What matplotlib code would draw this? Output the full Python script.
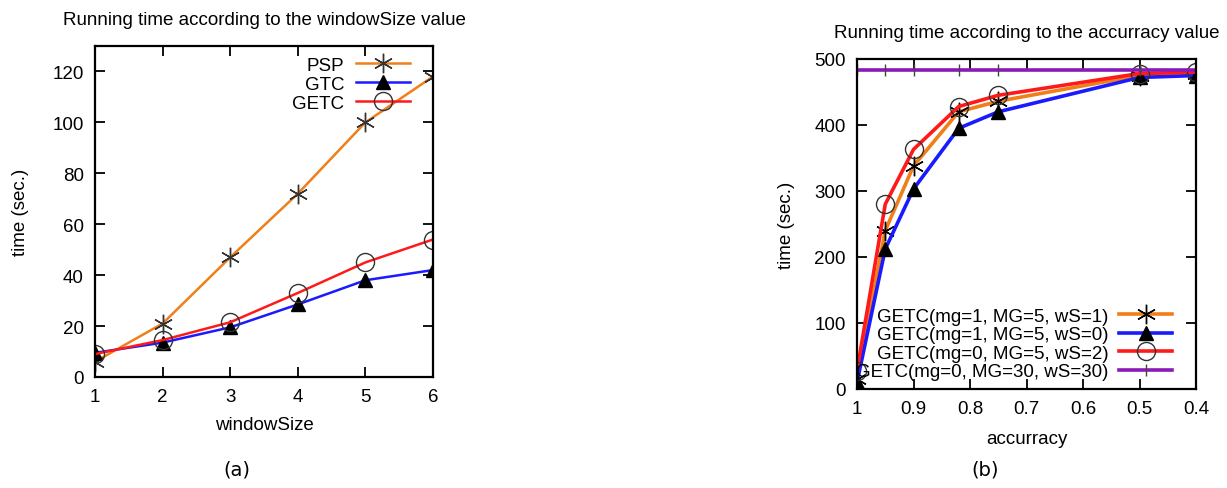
import matplotlib
matplotlib.use("Agg")
import matplotlib.pyplot as plt
from matplotlib.ticker import FixedLocator

plt.rcParams['font.family'] = ['Liberation Sans', 'DejaVu Sans']

# ---- panel (a): running time vs windowSize ----
window_size = [1, 2, 3, 4, 5, 6]
psp_time = [6, 21, 47, 72, 100, 118]
gtc_time = [9.5, 13.5, 19.5, 28.5, 38, 42]
getc_time = [9, 14.5, 21.5, 33, 45, 54]

# ---- panel (b): running time vs accuracy ----
accuracy = [1.0, 0.95, 0.9, 0.82, 0.75, 0.5, 0.4]
acc_ticks = [1.0, 0.9, 0.8, 0.7, 0.6, 0.5, 0.4]
acc_tick_labels = ["1", "0.9", "0.8", "0.7", "0.6", "0.5", "0.4"]
getc_ws1 = [15, 240, 338, 420, 436, 475, 477]
getc_ws0 = [10, 212, 303, 395, 420, 472, 475]
getc_ws2 = [28, 280, 363, 428, 445, 478, 480]
getc_ws30 = [483, 483, 483, 483, 483, 483, 483]

W, H = 1227, 489
fig = plt.figure(figsize=(W / 100, H / 100), dpi=100)

FS = 13.5
ORANGE = "#f07f1a"
BLUE = "#1a1aff"
RED = "#ff1a1a"
PURPLE = "#8a1ab8"
MK = "#333333"


def style_axes(ax):
    for s in ax.spines.values():
        s.set_linewidth(1.6)
        s.set_color("black")
    ax.tick_params(direction="in", length=7, width=1.3, top=True, right=True,
                   labelsize=FS, pad=8)


# panel (a)
ax1 = fig.add_axes([95 / W, 1 - 378 / H, 338 / W, 331 / H])
ax1.plot(window_size, psp_time, color=ORANGE, lw=1.8, marker=(6, 2, 0),
         ms=14, mec=MK, mew=1.0, label="PSP")
ax1.plot(window_size, gtc_time, color=BLUE, lw=1.8, marker="^",
         ms=10, mfc="black", mec="black", label="GTC")
ax1.plot(window_size, getc_time, color=RED, lw=1.8, marker="o",
         ms=13, mfc="none", mec=MK, mew=1.0, label="GETC")
ax1.set_xlim(1, 6)
ax1.set_ylim(0, 130)
ax1.xaxis.set_major_locator(FixedLocator(window_size))
ax1.yaxis.set_major_locator(FixedLocator([0, 20, 40, 60, 80, 100, 120]))
style_axes(ax1)
ax1.set_xlabel("windowSize", fontsize=FS, labelpad=8)
ax1.set_ylabel("time (sec.)", fontsize=FS, labelpad=17)
ax1.set_title("Running time according to the windowSize value",
              fontsize=FS, pad=16)
ax1.legend(loc="upper right", bbox_to_anchor=(0.932, 0.968), frameon=False,
           markerfirst=False, fontsize=FS, handlelength=2.9, numpoints=1,
           labelspacing=0.1, handletextpad=0.6, borderaxespad=0.0,
           borderpad=0.0)
fig.text(237 / W, 1 - 470 / H, "(a)", fontsize=14, family="DejaVu Sans",
         ha="center", va="center")

# panel (b)
ax2 = fig.add_axes([857 / W, 1 - 390 / H, 339 / W, 330 / H])
ax2.plot(accuracy, getc_ws1, color=ORANGE, lw=2.6, marker=(6, 2, 0),
         ms=14, mec="black", mew=1.0, label="GETC(mg=1, MG=5, wS=1)")
ax2.plot(accuracy, getc_ws0, color=BLUE, lw=2.6, marker="^",
         ms=10, mfc="black", mec="black", label="GETC(mg=1, MG=5, wS=0)")
ax2.plot(accuracy, getc_ws2, color=RED, lw=2.6, marker="o",
         ms=13, mfc="none", mec=MK, mew=1.0, label="GETC(mg=0, MG=5, wS=2)")
ax2.plot(accuracy, getc_ws30, color=PURPLE, lw=2.6, marker="|",
         ms=8, mec="#444444", mew=1.0, label="GETC(mg=0, MG=30, wS=30)")
ax2.set_xlim(1.0, 0.4)
ax2.set_ylim(0, 500)
ax2.xaxis.set_major_locator(FixedLocator(acc_ticks))
ax2.set_xticklabels(acc_tick_labels)
ax2.yaxis.set_major_locator(FixedLocator([0, 100, 200, 300, 400, 500]))
style_axes(ax2)
ax2.set_xlabel("accurracy", fontsize=FS, labelpad=9)
ax2.set_ylabel("time (sec.)", fontsize=FS, labelpad=14)
ax2.set_title("Running time according to the accurracy value",
              fontsize=FS, pad=16)
ax2.legend(loc="lower right", bbox_to_anchor=(0.929, 0.027), frameon=False,
           markerfirst=False, fontsize=FS, handlelength=2.8, numpoints=1,
           labelspacing=0.07, handletextpad=0.6, borderaxespad=0.0,
           borderpad=0.0)
fig.text(985 / W, 1 - 470 / H, "(b)", fontsize=14, family="DejaVu Sans",
         ha="center", va="center")

fig.savefig("out.png", dpi=100)
